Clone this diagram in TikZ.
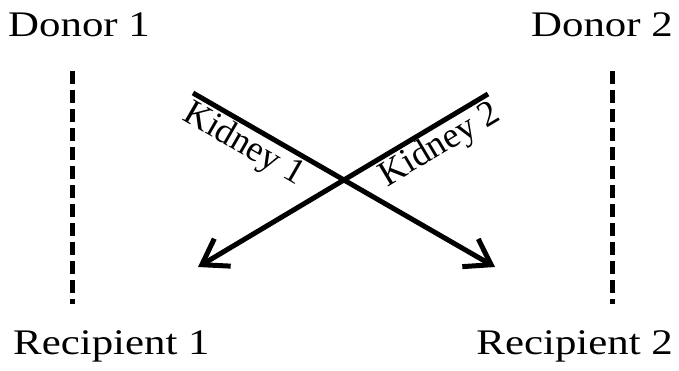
\documentclass[tikz,border=0pt]{standalone}
\usepackage{fontspec}
\setmainfont{Liberation Serif}
\usetikzlibrary{arrows.meta}

\begin{document}
\begin{tikzpicture}[x=1pt, y=-1pt,
    person/.style = {font=\fontsize{36}{40}\selectfont, inner sep=0pt, xscale=1.19},
    organ/.style = {font=\fontsize{36}{40}\selectfont, inner sep=1pt, sloped, below},
    kidney/.style = {draw, line width=5pt, -{Straight Barb[length=24pt, width=32pt]}},
    match/.style = {draw, line width=5pt, dash pattern=on 13pt off 6pt}]
    \useasboundingbox (0,0) rectangle (679,370);
    \node[person, anchor=base west] (d1) at (8,36)   {Donor 1};
    \node[person, anchor=base east] (d2) at (673,36) {Donor 2};
    \node[person, anchor=base west] (r1) at (13,354)  {Recipient 1};
    \node[person, anchor=base east] (r2) at (673,354) {Recipient 2};
    \coordinate (m1top) at (72,71);  \coordinate (m1bot) at (72,304);
    \coordinate (m2top) at (612,71); \coordinate (m2bot) at (612,304);
    \coordinate (k1) at (193,93);  \coordinate (k1end) at (495,267);
    \coordinate (k2) at (488,94);  \coordinate (k2end) at (198,267);
    \draw[match] (m1top) -- (m1bot);
    \draw[match] (m2top) -- (m2bot);
    \draw[kidney] (k1) -- node[organ, pos=0.2] {Kidney 1} (k1end);
    \draw[kidney] (k2) -- node[organ, pos=0.2] {Kidney 2} (k2end);
\end{tikzpicture}
\end{document}
